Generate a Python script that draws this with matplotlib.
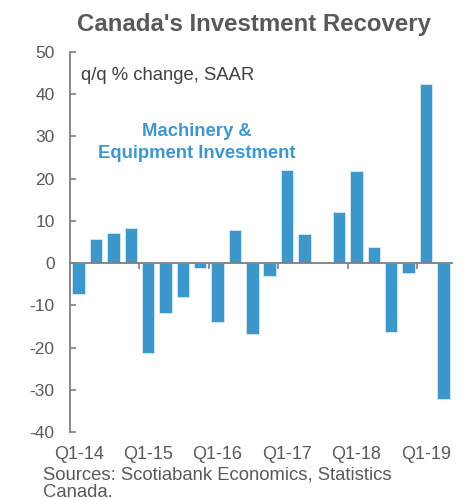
import matplotlib
matplotlib.use("Agg")
import matplotlib.pyplot as plt
import numpy as np

plt.rcParams['font.family'] = ['Liberation Sans', 'DejaVu Sans']
plt.rcParams['axes.unicode_minus'] = False

quarters = ["Q1-14", "Q2-14", "Q3-14", "Q4-14",
            "Q1-15", "Q2-15", "Q3-15", "Q4-15",
            "Q1-16", "Q2-16", "Q3-16", "Q4-16",
            "Q1-17", "Q2-17", "Q3-17", "Q4-17",
            "Q1-18", "Q2-18", "Q3-18", "Q4-18",
            "Q1-19", "Q2-19"]
values = [-7.4, 5.6, 7.1, 8.4,
          -21.3, -11.8, -8.1, -1.2,
          -13.9, 7.9, -16.7, -3.1,
          22.1, 6.9, 0.0, 12.0,
          21.9, 3.9, -16.3, -2.4,
          42.5, -32.2]
yticks = [-40, -30, -20, -10, 0, 10, 20, 30, 40, 50]

grey = '#595959'
axisgrey = '#7f7f7f'
blue = '#3e97cb'

fig = plt.figure(figsize=(4.71, 5.0), dpi=100)
ax = fig.add_axes([70/471, 1-432/500, (452-70)/471, (432-52)/500])

x = np.arange(len(values))
ax.bar(x, values, width=0.72, color=blue, edgecolor='#d6e9f5', linewidth=0.6)

ax.set_xlim(-0.5, len(values) - 0.5)
ax.set_ylim(-40, 50)
ax.set_yticks(yticks)
ax.tick_params(axis='y', direction='in', length=4, width=1.2, color=axisgrey,
               labelsize=12.5, labelcolor=grey, pad=11)

for s in ['top', 'right']:
    ax.spines[s].set_visible(False)
ax.spines['left'].set_color(axisgrey)
ax.spines['left'].set_linewidth(1.3)
ax.spines['bottom'].set_position(('data', 0))
ax.spines['bottom'].set_color(axisgrey)
ax.spines['bottom'].set_linewidth(1.3)

# ticks on zero line at year boundaries
ax.set_xticks(np.arange(3.5, len(values) - 1, 4), minor=True)
ax.set_xticks([])
ax.tick_params(axis='x', which='minor', direction='out', length=4, width=1.2,
               color=axisgrey, labelbottom=False)

sec = ax.secondary_xaxis('bottom')
sec.spines['bottom'].set_visible(False)
lab_pos = x[::4]
sec.set_xticks(lab_pos)
sec.set_xticklabels([quarters[i] for i in lab_pos])
sec.tick_params(axis='x', length=0, labelsize=13, labelcolor=grey, pad=10)

fig.text(254/471, 1-25/500, "Canada's Investment Recovery", ha='center', va='center',
         fontsize=17.3, fontweight='bold', color=grey)
ax.text(0.03, 0.96, "q/q % change, SAAR", transform=ax.transAxes, ha='left', va='top',
        fontsize=13.3, color='#404040')
ax.text(197/471, 1-142.5/500, "Machinery &\nEquipment Investment", transform=fig.transFigure,
        ha='center', va='center', fontsize=13.3, fontweight='bold', color=blue,
        linespacing=1.45)
fig.text(43/471, 1-466/500, "Sources: Scotiabank Economics, Statistics\nCanada.",
         ha='left', va='top', fontsize=13.3, color=grey, linespacing=1.1)

fig.savefig("out.png", dpi=100)
